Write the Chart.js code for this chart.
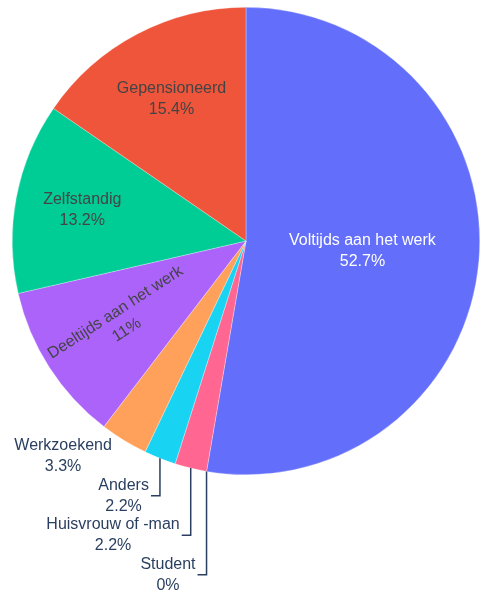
<!DOCTYPE html>
<html>
<head>
<meta charset="utf-8">
<script src="https://cdn.jsdelivr.net/npm/chart.js@4"></script>
<style>
html,body{margin:0;padding:0;background:#fff;}
#wrap{width:481px;height:593px;position:relative;}
</style>
</head>
<body>
<div id="wrap"><canvas id="c" width="481" height="593"></canvas></div>
<script>
const categories = ['Voltijds aan het werk', 'Student', 'Huisvrouw of -man', 'Anders', 'Werkzoekend', 'Deeltijds aan het werk', 'Zelfstandig', 'Gepensioneerd'];
const values = [52.7, 0, 2.2, 2.2, 3.3, 11, 13.2, 15.4];
const colors = ['#636efa', '#B6E880', '#FF6692', '#19d3f3', '#FFA15A', '#ab63fa', '#00cc96', '#EF553B'];

const labelStyle = {
  'Voltijds aan het werk': {pos: 'inside', r: 0.5, color: '#ffffff', rot: 0},
  'Gepensioneerd': {pos: 'inside', r: 0.685, color: '#444444', rot: 0},
  'Zelfstandig': {pos: 'inside', r: 0.713, color: '#444444', rot: 0},
  'Deeltijds aan het werk': {pos: 'inside', r: 0.635, color: '#444444', rot: -33},
  'Werkzoekend': {pos: 'outside', leader: false},
  'Anders': {pos: 'outside', leader: true},
  'Huisvrouw of -man': {pos: 'outside', leader: true},
  'Student': {pos: 'outside', leader: true}
};

function fmt(v) { return String(parseFloat(v.toFixed(1))) + '%'; }

const FONT = '16px "Liberation Sans", Arial, Helvetica, sans-serif';
const LINE = 21;

const labelPlugin = {
  id: 'pieLabels',
  afterDatasetsDraw(chart) {
    const ctx = chart.ctx;
    const meta = chart.getDatasetMeta(0);
    const outside = [];
    ctx.save();
    ctx.font = FONT;
    ctx.textBaseline = 'middle';
    meta.data.forEach((arc, i) => {
      const p = arc.getProps(['x', 'y', 'startAngle', 'endAngle', 'outerRadius'], true);
      const mid = (p.startAngle + p.endAngle) / 2;
      const name = categories[i];
      const st = labelStyle[name];
      const lines = [name, fmt(values[i])];
      if (st.pos === 'inside') {
        const cx = p.x + Math.cos(mid) * p.outerRadius * st.r;
        const cy = p.y + Math.sin(mid) * p.outerRadius * st.r;
        ctx.save();
        ctx.translate(cx, cy);
        if (st.rot) ctx.rotate(st.rot * Math.PI / 180);
        ctx.fillStyle = st.color;
        ctx.textAlign = 'center';
        ctx.fillText(lines[0], 0, -LINE / 2);
        ctx.fillText(lines[1], 0, LINE / 2);
        ctx.restore();
      } else {
        outside.push({
          lines, st,
          ex: p.x + Math.cos(mid) * p.outerRadius,
          ey: p.y + Math.sin(mid) * p.outerRadius
        });
      }
    });
    outside.reverse();
    let firstY = null;
    outside.forEach((o, k) => {
      if (firstY === null) firstY = o.ey + 16;
      const yMid = firstY + k * 39.5;
      const w = Math.max(ctx.measureText(o.lines[0]).width, ctx.measureText(o.lines[1]).width);
      let right;
      if (o.st.leader) {
        const endX = o.ex - 9;
        ctx.strokeStyle = '#2a3f5f';
        ctx.lineWidth = 1.5;
        ctx.beginPath();
        ctx.moveTo(o.ex, o.ey);
        ctx.lineTo(o.ex, yMid);
        ctx.lineTo(endX, yMid);
        ctx.stroke();
        right = endX - 2;
      } else {
        right = o.ex - 12;
      }
      const cx = right - w / 2;
      ctx.fillStyle = '#2a3f5f';
      ctx.textAlign = 'center';
      ctx.fillText(o.lines[0], cx, yMid - LINE / 2);
      ctx.fillText(o.lines[1], cx, yMid + LINE / 2);
    });
    ctx.restore();
  }
};

new Chart(document.getElementById('c'), {
  type: 'pie',
  data: {
    labels: categories,
    datasets: [{
      data: values,
      backgroundColor: colors,
      borderColor: 'rgba(255,255,255,0.6)',
      borderWidth: 0.5
    }]
  },
  options: {
    responsive: false,
    animation: false,
    layout: {padding: {left: 12, right: 1, top: 7, bottom: 118}},
    plugins: {legend: {display: false}, tooltip: {enabled: false}}
  },
  plugins: [labelPlugin]
});
</script>
</body>
</html>
